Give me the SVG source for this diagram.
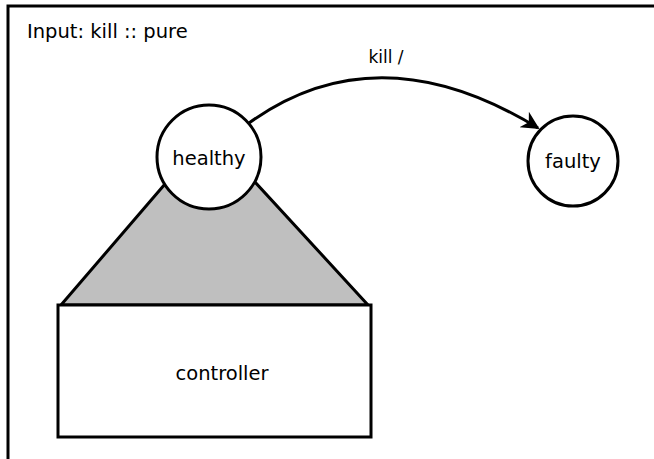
<svg xmlns="http://www.w3.org/2000/svg" width="654" height="459" viewBox="0 0 654 459">
<style>
text{font-family:"DejaVu Sans",sans-serif;font-size:19.5px;fill:#000}
.st{fill:#fff;stroke:#000;stroke-width:3}
.edge{fill:none;stroke:#000;stroke-width:3}
</style>
<defs>
<marker id="arr" viewBox="0 0 10 10" refX="9" refY="5" markerWidth="7" markerHeight="6" markerUnits="strokeWidth" orient="auto">
<path d="M0,0 L10,5 L0,10 L3,5 Z" fill="#000"/>
</marker>
</defs>
<rect width="654" height="459" fill="#fff"/>
<path d="M8,459 V6 H654" fill="none" stroke="#000" stroke-width="3"/>
<text x="27" y="38">Input: kill :: pure</text>
<g id="controller-link">
<polygon points="165,184 255,182 368,305 61,305" fill="#bfbfbf" stroke="#000" stroke-width="3" stroke-linejoin="round"/>
</g>
<g id="controller">
<rect x="58" y="305" width="313" height="132" class="st"/>
<text x="222" y="380" text-anchor="middle">controller</text>
</g>
<g id="healthy">
<circle cx="209" cy="157" r="52" class="st"/>
<text x="209" y="165" text-anchor="middle">healthy</text>
</g>
<g id="faulty">
<circle cx="573" cy="161" r="45" class="st"/>
<text x="573" y="168" text-anchor="middle">faulty</text>
</g>
<g id="connectors">
<path d="M249,123 Q378,30 538,128" class="edge" marker-end="url(#arr)"/>
<text x="386" y="63" text-anchor="middle" style="font-size:17px">kill /</text>
</g>
</svg>
